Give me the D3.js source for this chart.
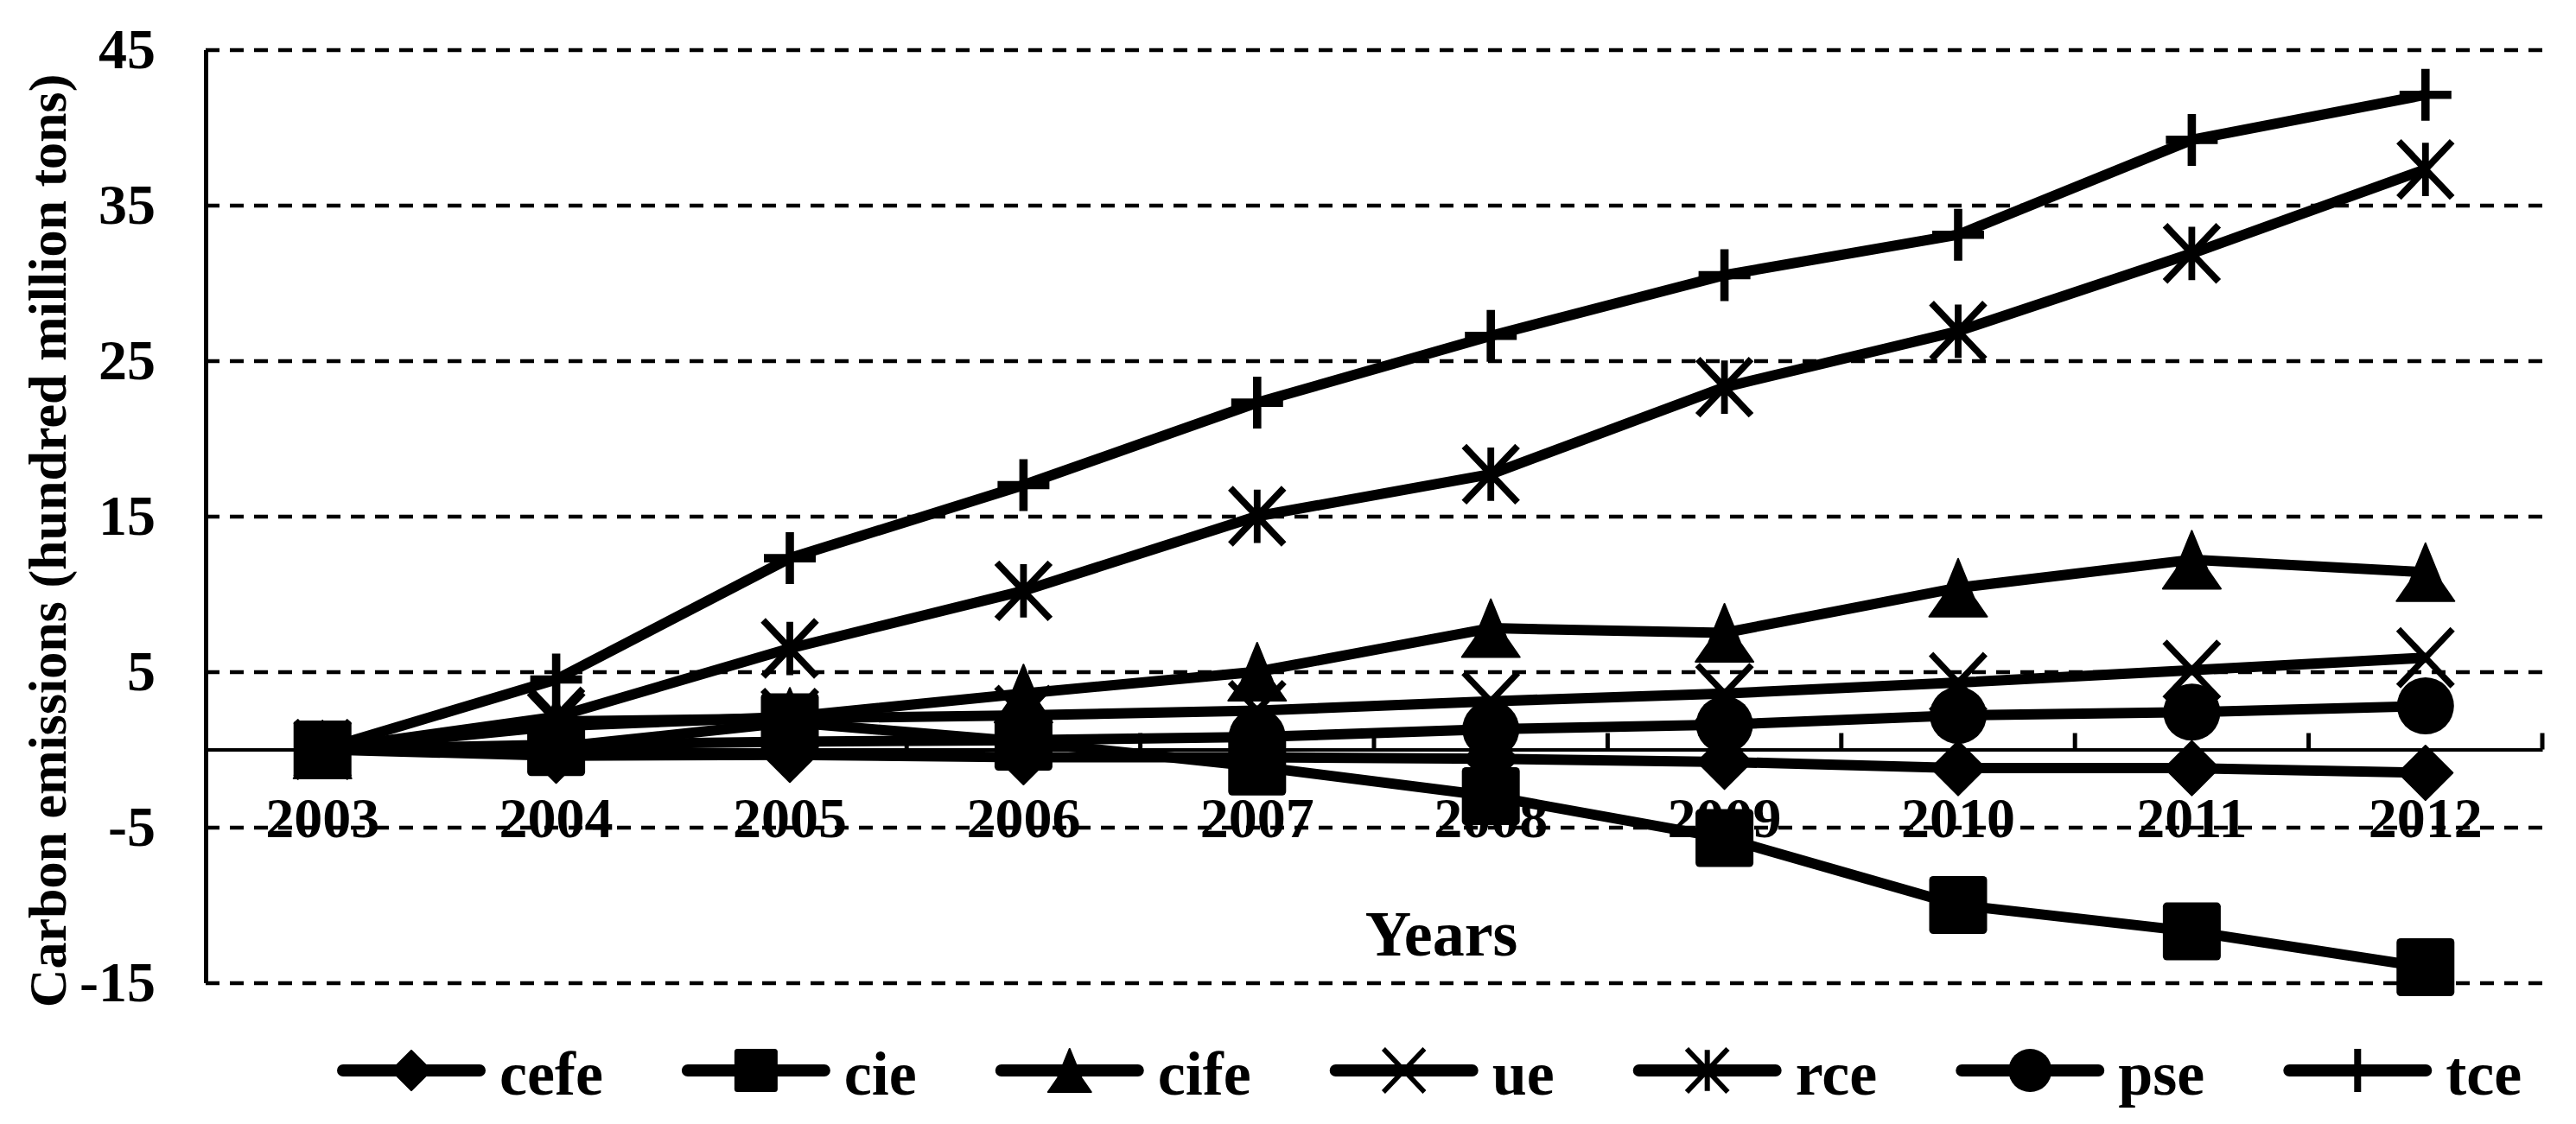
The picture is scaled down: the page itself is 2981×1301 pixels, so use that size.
<!DOCTYPE html>
<html>
<head>
<meta charset="utf-8">
<script src="https://cdn.jsdelivr.net/npm/d3@7"></script>
<style>
  html, body { margin: 0; padding: 0; background: #fff; }
  svg { display: block; }
  text { font-family: "Liberation Serif", "Times New Roman", serif; font-weight: bold; fill: #000; }
</style>
</head>
<body>
<svg id="chart" width="2981" height="1301"></svg>
<script>
// ---- data ----
const years = ["2003","2004","2005","2006","2007","2008","2009","2010","2011","2012"];
const cefe = [0, -0.4, -0.35, -0.5, -0.5, -0.6, -0.8, -1.2, -1.2, -1.5];
const cie  = [0, 0.15, 1.75, 0.5, -1.1, -3.0, -5.7, -10.0, -11.7, -14.0];
const cife = [0, 1.5, 2.1, 3.6, 5.0, 7.8, 7.5, 10.4, 12.2, 11.4];
const ue   = [0, 1.8, 2.0, 2.2, 2.5, 3.1, 3.6, 4.3, 5.1, 5.9];
const rce  = [0, 2.1, 6.5, 10.2, 15.0, 17.7, 23.3, 26.9, 31.9, 37.3];
const pse  = [0, 0.3, 0.5, 0.6, 0.8, 1.3, 1.6, 2.2, 2.4, 2.8];
const tce  = [0, 4.5, 12.3, 17.0, 22.3, 26.6, 30.5, 33.1, 39.2, 42.1];
const seriesNames = ["cefe","cie","cife","ue","rce","pse","tce"];
const seriesValues = [cefe, cie, cife, ue, rce, pse, tce];
const yTicks = [-15, -5, 5, 15, 25, 35, 45];
const yTitle = "Carbon emissions (hundred million tons)";
const xTitle = "Years";

(function () {
// ---- layout ----
const svg = d3.select("#chart");
const pLeft = 238, pRight = 2942, pTop = 57.5, pBottom = 1137.5;
const x = d3.scaleBand().domain(years).range([pLeft, pRight]).padding(0);
const y = d3.scaleLinear().domain([-15, 45]).range([pBottom, pTop]);

svg.append("rect").attr("width", 2981).attr("height", 1301).attr("fill", "#fff");

// gridlines (dashed)
const grid = svg.append("g").attr("transform", `translate(${pLeft},0)`)
  .call(d3.axisLeft(y).tickValues(yTicks).tickSize(-(pRight - pLeft)).tickFormat(""));
grid.select(".domain").remove();
grid.selectAll(".tick line").attr("stroke", "#000").attr("stroke-width", 4.5)
  .attr("stroke-dasharray", "16,12");

// y axis
const yAxis = svg.append("g").attr("transform", `translate(${pLeft},0)`)
  .call(d3.axisLeft(y).tickValues(yTicks).tickSize(0).tickSizeOuter(0).tickPadding(58)
    .tickFormat(d => String(d)));
yAxis.select(".domain").attr("stroke", "#000").attr("stroke-width", 5);
yAxis.selectAll("text").style("font-size", "66px").style("font-family", "Liberation Serif").style("font-weight", "bold");

// x axis at zero
const y0 = y(0);
const xAxis = svg.append("g").attr("transform", `translate(0,${y0})`)
  .call(d3.axisBottom(x).tickSize(0).tickSizeOuter(0).tickPadding(55));
xAxis.select(".domain").attr("stroke", "#000").attr("stroke-width", 4);
xAxis.selectAll("text").style("font-size", "66px").style("font-family", "Liberation Serif").style("font-weight", "bold");
// boundary tick marks pointing up
const bounds = d3.range(1, years.length + 1).map(i => x.range()[0] + i * x.step());
svg.append("g").selectAll("line").data(bounds).join("line")
  .attr("x1", d => d).attr("x2", d => d)
  .attr("y1", y0).attr("y2", y0 - 19)
  .attr("stroke", "#000").attr("stroke-width", 5);

// titles
svg.append("text").attr("transform", "translate(76,626) rotate(-90)")
  .attr("text-anchor", "middle").style("font-size", "62px").text(yTitle);
svg.append("text").attr("x", 1668).attr("y", 1106)
  .attr("text-anchor", "middle").style("font-size", "74px").text(xTitle);

// ---- markers ----
function drawMarker(g, name, s) {
  const h = s / 2;
  if (name === "cefe") {
    g.append("path").attr("d", `M0,${-h}L${h},0L0,${h}L${-h},0Z`).attr("fill", "#000")
      .attr("stroke", "#000").attr("stroke-width", 2).attr("stroke-linejoin", "round");
  } else if (name === "cie") {
    g.append("rect").attr("x", -h).attr("y", -h).attr("width", s).attr("height", s)
      .attr("rx", s * 0.07).attr("fill", "#000");
  } else if (name === "cife") {
    g.append("path").attr("d", `M0,${-h}L${h * 0.55},${h * 0.35}L${h},${h}L${-h},${h}L${-h * 0.55},${h * 0.35}Z`)
      .attr("fill", "#000").attr("stroke", "#000").attr("stroke-width", 2).attr("stroke-linejoin", "round");
  } else if (name === "ue") {
    const a = h * 0.95;
    g.append("path").attr("d", `M${-a},${-h}L${a},${h}M${a},${-h}L${-a},${h}`)
      .attr("stroke", "#000").attr("stroke-width", s * 0.11).attr("fill", "none");
  } else if (name === "rce") {
    const a = h * 0.95;
    g.append("path").attr("d", `M${-a},${-h}L${a},${h}M${a},${-h}L${-a},${h}M0,${-h * 0.95}L0,${h * 0.95}`)
      .attr("stroke", "#000").attr("stroke-width", s * 0.12).attr("fill", "none");
  } else if (name === "pse") {
    g.append("ellipse").attr("rx", h).attr("ry", h).attr("fill", "#000");
  } else if (name === "tce") {
    g.append("path").attr("d", `M0,${-h}L0,${h}M${-h},0L${h},0`)
      .attr("stroke", "#000").attr("stroke-width", s * 0.16).attr("fill", "none");
  }
}

const markerSize = { cefe: 63, cie: 67, cife: 67, ue: 66, rce: 65, pse: 66, tce: 60 };
const line = d3.line().x((d, i) => x(years[i]) + x.bandwidth() / 2).y(d => y(d));

seriesNames.forEach((name, si) => {
  const vals = seriesValues[si];
  const g = svg.append("g");
  g.append("path").datum(vals).attr("d", line)
    .attr("fill", "none").attr("stroke", "#000").attr("stroke-width", 12)
    .attr("stroke-linejoin", "round");
  vals.forEach((v, i) => {
    const mg = g.append("g").attr("transform", `translate(${x(years[i]) + x.bandwidth() / 2},${y(v)})`);
    drawMarker(mg, name, markerSize[name]);
  });
});

// ---- legend ----
const legend = svg.append("g");
let lx = 391;
const ly = 1239;
seriesNames.forEach(name => {
  const g = legend.append("g");
  g.append("line").attr("x1", lx + 6).attr("x2", lx + 164).attr("y1", ly).attr("y2", ly)
    .attr("stroke", "#000").attr("stroke-width", 14).attr("stroke-linecap", "round");
  const mg = g.append("g").attr("transform", `translate(${lx + 85},${ly})`);
  drawMarker(mg, name, name === "cefe" ? 46 : 50);
  const t = g.append("text").attr("x", lx + 187).attr("y", 1267).style("font-size", "72px").text(name);
  const w = t.node().getComputedTextLength();
  lx = lx + 187 + w + 92;
});
})();
</script>
</body>
</html>
